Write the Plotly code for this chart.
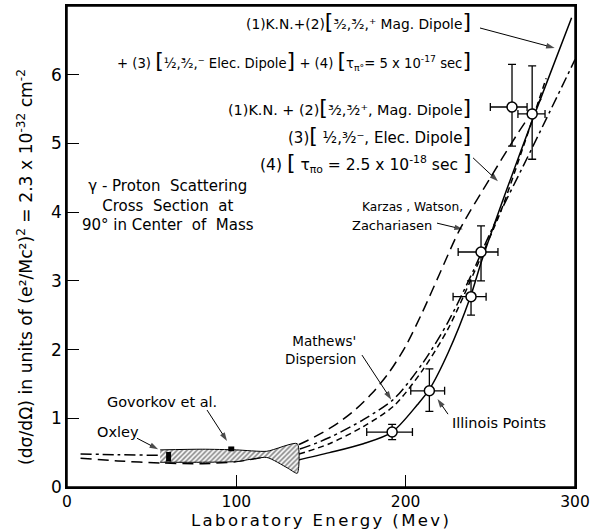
import plotly.graph_objects as go

# ---- data ----
solid_x = [136, 155, 175, 192, 207, 214, 225, 238, 245, 260, 275, 298]
solid_y = [0.39, 0.50, 0.63, 0.80, 1.20, 1.42, 1.95, 2.75, 3.30, 4.35, 5.35, 6.83]

dashdot_x = [8, 30, 55, 80, 100, 120, 137, 155, 175, 193, 210, 225, 240, 250, 275, 300]
dashdot_y = [0.48, 0.47, 0.46, 0.45, 0.45, 0.48, 0.55, 0.72, 0.98, 1.28, 1.80, 2.40, 3.15, 3.70, 4.95, 6.22]

shortdash_x = [137, 155, 175, 193, 210, 225, 240, 256, 269, 283]
shortdash_y = [0.48, 0.63, 0.88, 1.18, 1.70, 2.30, 3.10, 4.00, 4.92, 5.95]

longdash_x = [8, 30, 55, 80, 100, 120, 138, 150, 160, 170, 180, 190, 200, 210, 220, 232, 250, 265, 280]
longdash_y = [0.42, 0.38, 0.35, 0.34, 0.37, 0.46, 0.63, 0.78, 0.93, 1.12, 1.36, 1.66, 2.05, 2.55, 3.10, 3.75, 4.50, 5.10, 5.65]

pts_x = [192, 214, 238.6, 244.5, 262.8, 274.7]
pts_y = [0.80, 1.40, 2.77, 3.42, 5.53, 5.43]
pts_xm = [15, 11, 10.6, 13.5, 12.8, 8.4]
pts_xp = [12, 9, 8.9, 10, 8.9, 7.6]
pts_ym = [0.11, 0.30, 0.27, 0.42, 0.57, 0.66]
pts_yp = [0.11, 0.32, 0.23, 0.38, 0.62, 0.70]

band_upper_x = [55, 80, 100, 118, 136]
band_upper_y = [0.54, 0.55, 0.54, 0.52, 0.63]
band_lower_x = [136, 130, 118, 100, 80, 55]
band_lower_y = [0.20, 0.28, 0.43, 0.37, 0.36, 0.36]

oxley_x = [60, 60]
oxley_y = [0.37, 0.51]
govorkov_x = [97, 97]
govorkov_y = [0.52, 0.59]

x_ticks = [0, 100, 200, 300]
y_ticks = [0, 1, 2, 3, 4, 5, 6]

# label pointer arrows (tail x, tail y, head x, head y)
pointer_arrows = [
    (243.9, 6.68, 288.0, 6.39),
    (239.8, 4.79, 254.5, 4.45),
    (218.5, 3.84, 233.8, 3.75),
    (174.2, 1.92, 191.5, 1.27),
    (225.0, 1.06, 218.8, 1.28),
    (82.7, 1.12, 94.5, 0.67),
    (41.3, 0.71, 53.8, 0.55),
]

FONT = "DejaVu Sans"
fig = go.Figure()

line_common = dict(color="black", width=1.5, shape="spline", smoothing=0.8)
fig.add_trace(go.Scatter(x=longdash_x, y=longdash_y, mode="lines",
                         line=dict(dash="11px,6px", **line_common)))
fig.add_trace(go.Scatter(x=dashdot_x, y=dashdot_y, mode="lines",
                         line=dict(dash="11px,4px,3px,4px", **line_common)))
fig.add_trace(go.Scatter(x=shortdash_x, y=shortdash_y, mode="lines",
                         line=dict(dash="6px,4px", **line_common)))
fig.add_trace(go.Scatter(x=solid_x, y=solid_y, mode="lines",
                         line=dict(**line_common)))

# hatched band
fig.add_trace(go.Scatter(x=band_upper_x + band_lower_x, y=band_upper_y + band_lower_y,
                         mode="lines", fill="toself",
                         line=dict(color="black", width=1, shape="spline", smoothing=0.6),
                         fillcolor="white",
                         fillpattern=dict(shape="/", fgcolor="black", bgcolor="white",
                                          size=3.5, solidity=0.45)))
fig.add_trace(go.Scatter(x=oxley_x, y=oxley_y, mode="lines",
                         line=dict(color="black", width=5)))
fig.add_trace(go.Scatter(x=govorkov_x, y=govorkov_y, mode="lines",
                         line=dict(color="black", width=6)))

# data points
fig.add_trace(go.Scatter(x=pts_x, y=pts_y, mode="markers",
                         marker=dict(symbol="circle", size=10, color="white",
                                     line=dict(color="black", width=1.5)),
                         error_x=dict(type="data", symmetric=False, array=pts_xp,
                                      arrayminus=pts_xm, color="black", thickness=1.3, width=4),
                         error_y=dict(type="data", symmetric=False, array=pts_yp,
                                      arrayminus=pts_ym, color="black", thickness=1.3, width=4)))

# pointer arrows as line + arrow-head marker
for (x0, y0, x1, y1) in pointer_arrows:
    fig.add_trace(go.Scatter(x=[x0, x1], y=[y0, y1], mode="lines+markers",
                             line=dict(color="black", width=1),
                             marker=dict(symbol="arrow", size=[0, 9], color="black",
                                         angleref="previous", line=dict(width=0))))

ann = []
def text(x, y, t, xa="center", size=14, align="center"):
    ann.append(dict(x=x, y=y, xref="x", yref="y", text=t, showarrow=False,
                    xanchor=xa, yanchor="middle", align=align,
                    font=dict(family=FONT, size=size, color="black")))

B = "<span style='font-size:22px'>[</span>"
E = "<span style='font-size:22px'>]</span>"
RX = 240
text(RX, 6.77, "(1)K.N.+(2)" + B + "³⁄₂,³⁄₂,⁺ Mag. Dipole" + E, xa="right", size=13.8)
text(RX, 6.21, "+ (3) " + B + "½,³⁄₂,⁻ Elec. Dipole" + E + " + (4) " + B +
     "τ<sub>π°</sub>= 5 x 10<sup>-17</sup> sec" + E, xa="right", size=13.2)
text(RX, 5.52, "(1)K.N. + (2)" + B + "³⁄₂,³⁄₂⁺, Mag. Dipole" + E, xa="right", size=14.4)
text(RX, 5.12, "(3)" + B + " ½,³⁄₂⁻, Elec. Dipole" + E, xa="right", size=15)
text(RX, 4.72, "(4) " + B + " τ<sub>πo</sub> = 2.5 x 10<sup>-18</sup> sec " + E, xa="right", size=15.5)
text(59.6, 4.09, "γ - Proton  Scattering<br>Cross  Section  at<br>90° in Center  of  Mass", size=15)
text(235.0, 4.08, "Karzas , Watson,", xa="right", size=12.2)
text(216.5, 3.80, "Zachariasen", xa="right", size=13)
text(171.9, 1.99, "Mathews'<br>Dispersion", xa="right", align="right", size=13.5)
text(226.2, 0.93, "Illinois Points", xa="left", size=14.5)
text(22.4, 1.24, "Govorkov et al.", xa="left", size=14.5)
text(16.5, 0.80, "Oxley", xa="left", size=14.5)

ann.append(dict(x=-0.083, y=0.457, xref="paper", yref="paper", textangle=-90,
                text="(dσ/dΩ) in units of (e²/Mc²)<sup>2</sup> = 2.3 x 10<sup>-32</sup> cm<sup>-2</sup>",
                showarrow=False, xanchor="center", yanchor="middle",
                font=dict(family=FONT, size=17.2, color="black")))
ann.append(dict(x=0.5, y=-0.0705, xref="paper", yref="paper",
                text="<span style='letter-spacing:2.4px'>Laboratory Energy (Mev)</span>",
                showarrow=False, xanchor="center", yanchor="middle",
                font=dict(family=FONT, size=16.5, color="black")))

fig.update_layout(
    width=590, height=529,
    margin=dict(l=67, r=15, t=6, b=42, autoexpand=False),
    paper_bgcolor="white", plot_bgcolor="white",
    showlegend=False,
    annotations=ann,
    shapes=[dict(type="rect", xref="paper", yref="paper", x0=0, y0=0, x1=1, y1=1,
                 line=dict(color="black", width=1.5), fillcolor="rgba(0,0,0,0)", layer="above")],
    xaxis=dict(range=[0, 300], tickvals=x_ticks, ticktext=[str(v) for v in x_ticks],
               ticks="inside", ticklen=12, tickwidth=1.3, tickcolor="black",
               showline=True, linecolor="black", linewidth=1.5, mirror=True,
               showgrid=False, zeroline=False, ticklabelstandoff=0,
               ticklabeloverflow="allow", automargin=False,
               tickfont=dict(family=FONT, size=15.5, color="black")),
    yaxis=dict(range=[0, 7.0], tickvals=y_ticks, ticks="inside", ticklen=12,
               tickwidth=1.3, tickcolor="black", automargin=False,
               showline=True, linecolor="black", linewidth=1.5, mirror=True,
               showgrid=False, zeroline=False,
               tickfont=dict(family=FONT, size=17, color="black")),
)

fig.write_html("out.html", config={"displayModeBar": False},
               post_script="document.body.style.margin='0px';document.body.style.overflow='hidden';")
